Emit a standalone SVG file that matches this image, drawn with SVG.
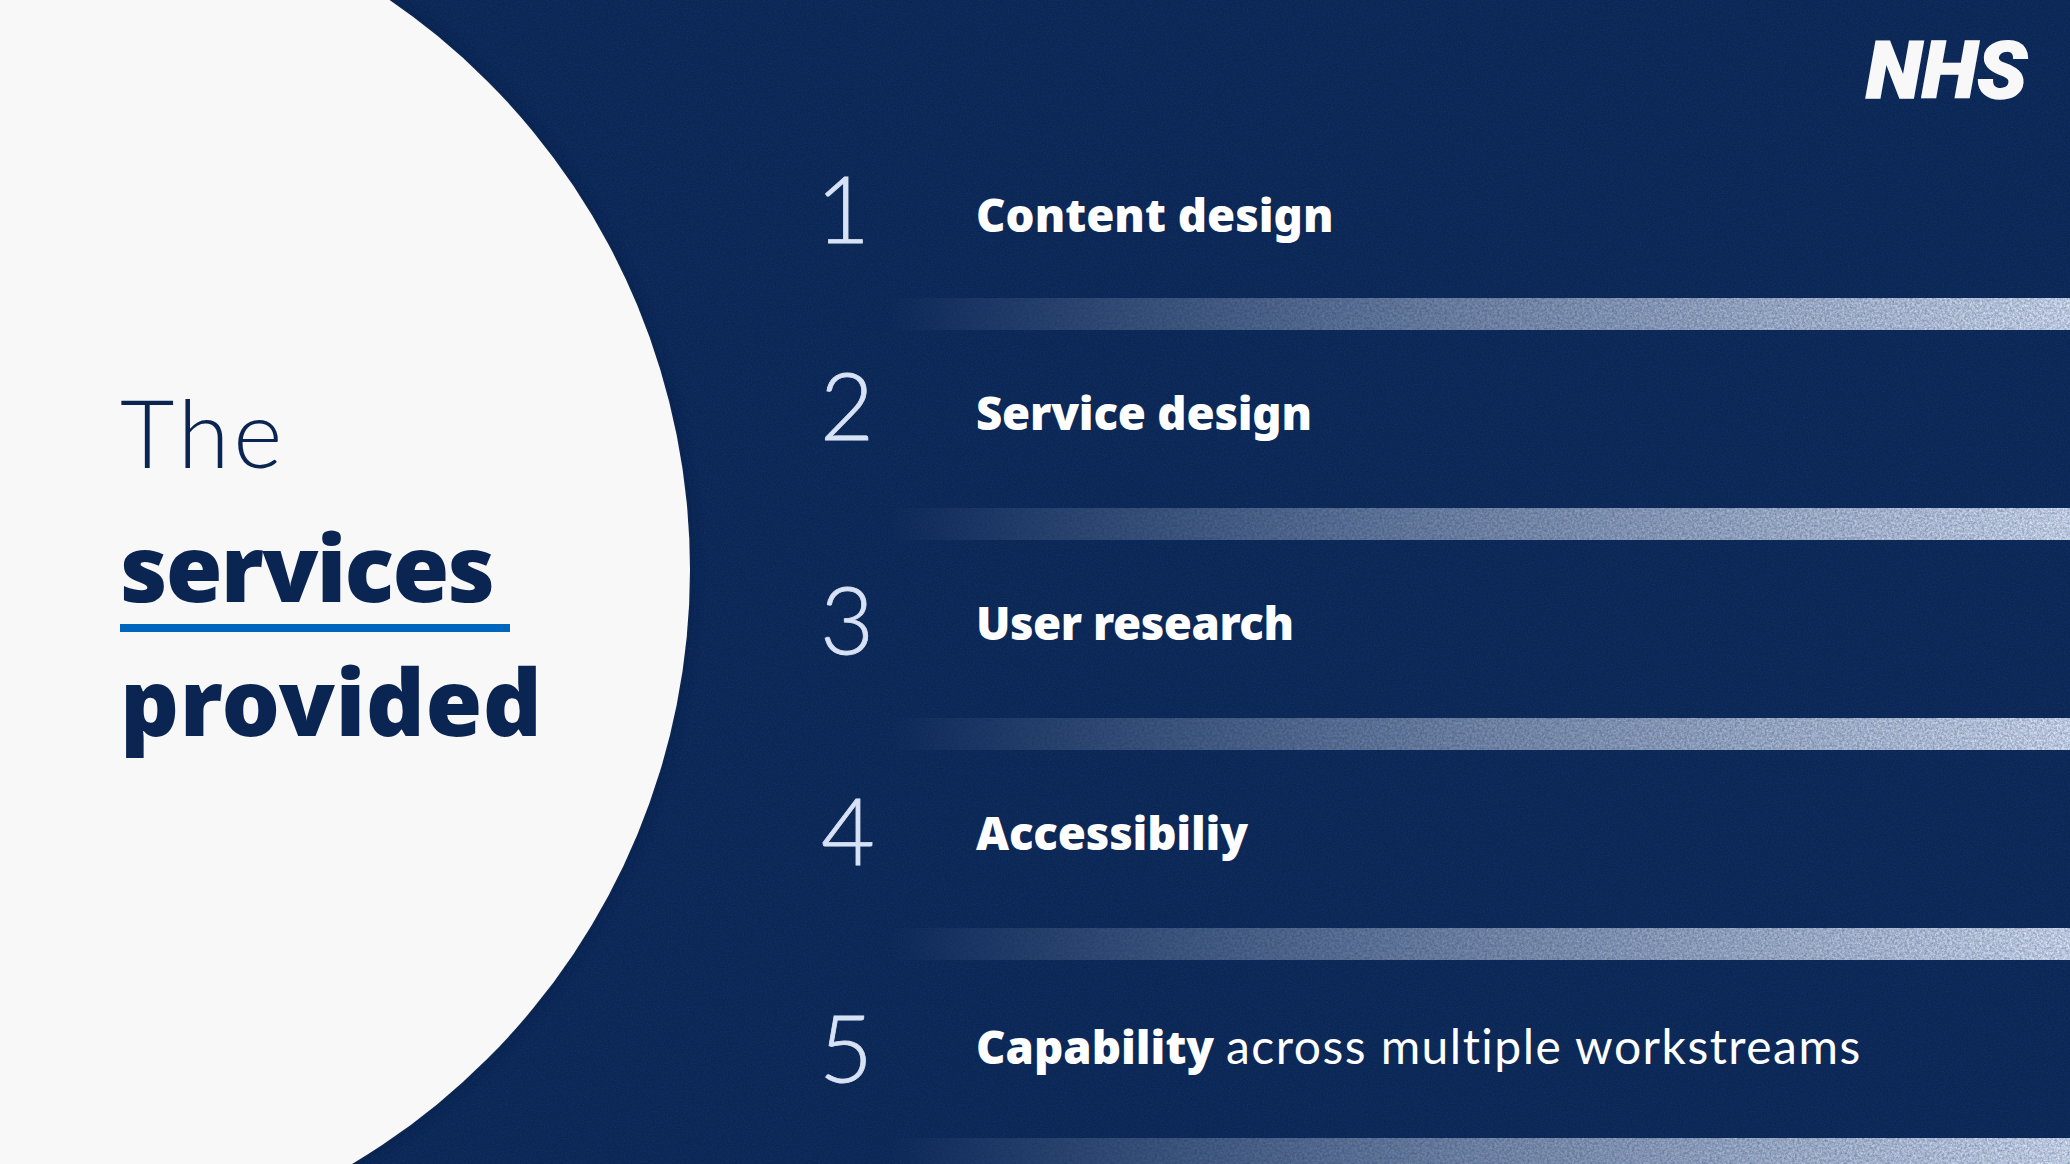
<svg xmlns="http://www.w3.org/2000/svg" width="2070" height="1164" viewBox="0 0 2070 1164">
<style>
.num{font-family:Lato,"Noto Sans",sans-serif;font-weight:300;font-size:93px;fill:#d8e2f5;stroke:#d8e2f5;stroke-width:.8px}
.lab{font-family:"Noto Sans",Lato,sans-serif;font-weight:900;font-size:45.6px;fill:#fff}
.thin{font-family:Lato,sans-serif;font-weight:400;font-size:48px;letter-spacing:1.47px}
.head{font-family:"Noto Sans",Lato,sans-serif;font-weight:900;font-size:92px;fill:#0b2552}
.bar{fill:url(#g)}
</style>
<defs>
<linearGradient id="g" gradientUnits="userSpaceOnUse" x1="890" y1="0" x2="2070" y2="0">
<stop offset="0" stop-color="#e0e8f8" stop-opacity="0"/>
<stop offset="0.5" stop-color="#e0e8f8" stop-opacity="0.54"/>
<stop offset="1" stop-color="#e0e8f8" stop-opacity="1"/>
</linearGradient>
<filter id="grain" x="0" y="0" width="100%" height="100%" color-interpolation-filters="sRGB">
<feTurbulence type="fractalNoise" baseFrequency="0.7" numOctaves="2" seed="3"/>
<feColorMatrix values="0 0 0 0 .14 0 0 0 0 .28 0 0 0 0 .52 0 0 0 .5 -.17"/>
</filter>
<filter id="grainDark" x="0" y="0" width="100%" height="100%" color-interpolation-filters="sRGB">
<feTurbulence type="fractalNoise" baseFrequency="0.4" numOctaves="2" seed="8"/>
<feColorMatrix values="0 0 0 0 .04 0 0 0 0 .15 0 0 0 0 .33 0 0 0 .55 -.16"/>
</filter>
<clipPath id="barclip">
<rect x="890" y="298" width="1180" height="32"/>
<rect x="890" y="508" width="1180" height="32"/>
<rect x="890" y="718" width="1180" height="32"/>
<rect x="890" y="928" width="1180" height="32"/>
<rect x="890" y="1138" width="1180" height="26"/>
</clipPath>
<filter id="soft" x="-10%" y="-10%" width="120%" height="120%"><feGaussianBlur stdDeviation="6"/></filter>
</defs>
<rect width="2070" height="1164" fill="#0a2654"/>
<g id="connectors">
<rect class="bar" x="890" y="298" width="1180" height="32"/>
<rect class="bar" x="890" y="508" width="1180" height="32"/>
<rect class="bar" x="890" y="718" width="1180" height="32"/>
<rect class="bar" x="890" y="928" width="1180" height="32"/>
<rect class="bar" x="890" y="1138" width="1180" height="26"/>
</g>
<g clip-path="url(#barclip)"><rect width="2070" height="1164" filter="url(#grainDark)"/></g>
<rect width="2070" height="1164" filter="url(#grain)"/>
<circle cx="-2" cy="570" r="694" fill="#071c42" opacity="0.5" filter="url(#soft)"/>
<g id="title-panel">
<circle cx="-1" cy="570" r="691" fill="#f8f8f8"/>
<text x="120" y="468" font-family="Lato,sans-serif" font-weight="300" font-size="94" letter-spacing="4" fill="#0b2552">The</text>
<text class="head" x="120" y="602" textLength="375">services</text>
<rect x="120" y="624" width="390" height="8" fill="#0066bd"/>
<text class="head" x="120" y="736" textLength="422">provided</text>
</g>
<g id="logo">
<text x="1866" y="98" font-family="Roboto,'Liberation Sans',sans-serif" font-style="italic" font-weight="900" font-size="79" fill="#f8f8f8" stroke="#f8f8f8" stroke-width="1.5" textLength="161" lengthAdjust="spacingAndGlyphs">NHS</text>
</g>
<g id="item-1"><text class="num" x="816" y="243">1</text><text class="lab" x="976" y="232">Content design</text></g>
<g id="item-2"><text class="num" x="820" y="440">2</text><text class="lab" x="976" y="430" textLength="336">Service design</text></g>
<g id="item-3"><text class="num" x="820" y="654">3</text><text class="lab" x="976" y="640" textLength="318">User research</text></g>
<g id="item-4"><text class="num" x="821" y="865">4</text><text class="lab" x="976" y="850" textLength="272">Accessibiliy</text></g>
<g id="item-5"><text class="num" x="819" y="1082">5</text><text class="lab" x="976" y="1064">Capability <tspan class="thin">across multiple workstreams</tspan></text></g>
</svg>
